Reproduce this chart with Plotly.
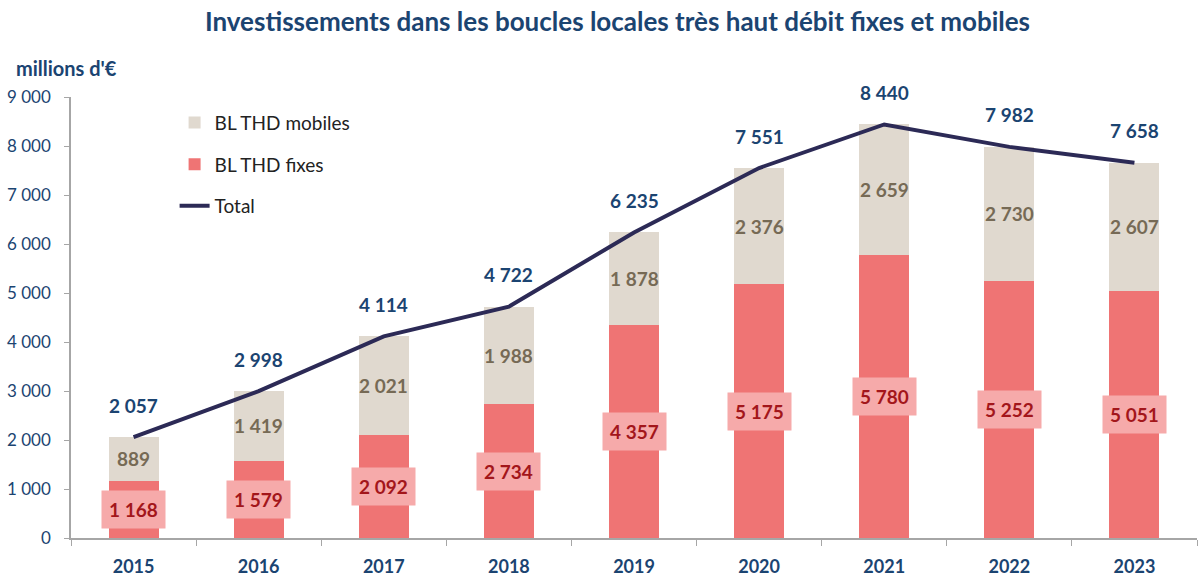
import plotly.graph_objects as go

years = ["2015", "2016", "2017", "2018", "2019", "2020", "2021", "2022", "2023"]
fixes = [1168, 1579, 2092, 2734, 4357, 5175, 5780, 5252, 5051]
mobiles = [889, 1419, 2021, 1988, 1878, 2376, 2659, 2730, 2607]
total = [2057, 2998, 4114, 4722, 6235, 7551, 8440, 7982, 7658]
y_ticks = [0, 1000, 2000, 3000, 4000, 5000, 6000, 7000, 8000, 9000]

FONT = "Lato"
NAVY = "#1B4471"

def fmt(v):
    return f"{v:,}".replace(",", " ")

fig = go.Figure()
fig.add_trace(go.Bar(x=years, y=fixes, name="BL THD fixes", marker_color="#EF7474",
                     marker_line_width=0, legendgroup="b", legendrank=2))
fig.add_trace(go.Bar(x=years, y=mobiles, name="BL THD mobiles", marker_color="#E0D9CF",
                     marker_line_width=0, legendgroup="a", legendrank=1))
fig.add_trace(go.Scatter(x=years, y=total, name="Total", mode="lines",
                         line=dict(color="#2C2A56", width=4), legendgroup="c", legendrank=3))

ann = []
for i, (f, m, t) in enumerate(zip(fixes, mobiles, total)):
    ann.append(dict(x=i, y=f / 2, text=f"<b>{fmt(f)}</b>", showarrow=False,
                    bgcolor="#F6AAAA", borderpad=7,
                    font=dict(family=FONT, size=19, color="#A3161B")))
    ann.append(dict(x=i, y=f + m / 2, text=f"<b>{fmt(m)}</b>", showarrow=False,
                    font=dict(family=FONT, size=19, color="#766A55")))
    ann.append(dict(x=i, y=t, yshift=32, text=f"<b>{fmt(t)}</b>", showarrow=False,
                    font=dict(family=FONT, size=19, color=NAVY)))
ann.append(dict(xref="paper", yref="paper", x=-0.051, y=1.066, xanchor="left", yanchor="middle",
                text="<b>millions d'€</b>", showarrow=False,
                font=dict(family=FONT, size=20, color=NAVY)))

fig.update_layout(
    width=1199, height=577,
    barmode="stack", bargap=0.6,
    separators=", ",
    plot_bgcolor="white", paper_bgcolor="white",
    margin=dict(l=71, r=2, t=97, b=39, autoexpand=False),
    title=dict(text="<b>Investissements dans les boucles locales très haut débit fixes et mobiles</b>",
               x=0.515, xanchor="center", y=0.962, yanchor="middle",
               font=dict(family=FONT, size=26, color=NAVY)),
    font=dict(family=FONT, size=17, color=NAVY),
    legend=dict(x=0.092, y=0.985, xanchor="left", yanchor="top", traceorder="grouped",
                tracegroupgap=14, bgcolor="rgba(0,0,0,0)",
                font=dict(family=FONT, size=19, color="#222222")),
    annotations=ann,
    xaxis=dict(type="category", showline=True, linecolor="#A6A6A6", linewidth=1.5,
               ticks="outside", tickson="boundaries", ticklen=6, tickcolor="#A6A6A6",
               ticklabelstandoff=12, automargin=False,
               tickfont=dict(family=FONT, size=18, color=NAVY, weight="bold"),
               showgrid=False),
    yaxis=dict(range=[0, 9000], tickvals=y_ticks, tickformat=",d", showline=True,
               linecolor="#A6A6A6", linewidth=1.5, ticks="outside", ticklen=5,
               tickcolor="#A6A6A6", showgrid=False, zeroline=False,
               ticklabelstandoff=10, automargin=False,
               tickfont=dict(family=FONT, size=17, color=NAVY)),
)

fig.write_html("out.html", config={"displayModeBar": False},
               post_script="document.body.style.margin='0';document.body.style.overflow='hidden';")
